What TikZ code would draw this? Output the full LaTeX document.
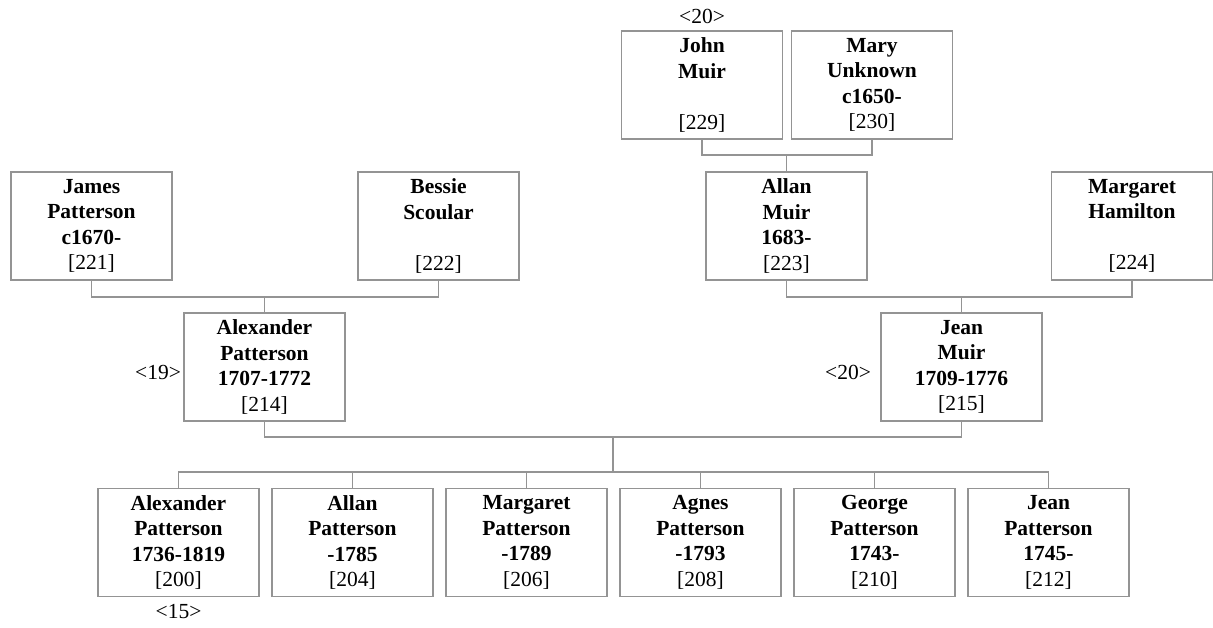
\documentclass[tikz,border=0pt]{standalone}
\usepackage{fontspec}
\setmainfont{Liberation Serif}
\begin{document}
\begin{tikzpicture}[x=1pt,y=-1pt,
  pbox/.style={draw=black!42,line width=1.2pt,minimum width=161pt,minimum height=108pt,
    inner sep=0pt,align=center,font=\fontsize{21.5}{25.5}\selectfont},
  link/.style={draw=black!42,line width=1.2pt},
  gen/.style={font=\fontsize{21.5}{25.5}\selectfont,inner sep=0pt}]
\useasboundingbox (0,0) rectangle (1213,628);
% generation 0
\node[pbox] (john) at (702,85) {\textbf{John}\\\textbf{Muir}\\~\\{}[229]};
\node[pbox] (mary) at (872,85) {\textbf{Mary}\\\textbf{Unknown}\\\textbf{c1650-}\\{}[230]};
% generation 1
\node[pbox] (james) at (91.5,226) {\textbf{James}\\\textbf{Patterson}\\\textbf{c1670-}\\{}[221]};
\node[pbox] (bessie) at (438.5,226) {\textbf{Bessie}\\\textbf{Scoular}\\~\\{}[222]};
\node[pbox] (allan) at (786.5,226) {\textbf{Allan}\\\textbf{Muir}\\\textbf{1683-}\\{}[223]};
\node[pbox] (margaret) at (1132,226) {\textbf{Margaret}\\\textbf{Hamilton}\\~\\{}[224]};
% generation 2
\node[pbox] (alex) at (264.5,367) {\textbf{Alexander}\\\textbf{Patterson}\\\textbf{1707-1772}\\{}[214]};
\node[pbox] (jean) at (961.5,367) {\textbf{Jean}\\\textbf{Muir}\\\textbf{1709-1776}\\{}[215]};
% children
\node[pbox] (c1) at (178.5,542.5) {\textbf{Alexander}\\\textbf{Patterson}\\\textbf{1736-1819}\\{}[200]};
\node[pbox] (c2) at (352.5,542.5) {\textbf{Allan}\\\textbf{Patterson}\\\textbf{-1785}\\{}[204]};
\node[pbox] (c3) at (526.5,542.5) {\textbf{Margaret}\\\textbf{Patterson}\\\textbf{-1789}\\{}[206]};
\node[pbox] (c4) at (700.5,542.5) {\textbf{Agnes}\\\textbf{Patterson}\\\textbf{-1793}\\{}[208]};
\node[pbox] (c5) at (874.5,542.5) {\textbf{George}\\\textbf{Patterson}\\\textbf{1743-}\\{}[210]};
\node[pbox] (c6) at (1048.5,542.5) {\textbf{Jean}\\\textbf{Patterson}\\\textbf{1745-}\\{}[212]};
% generation labels
\node[gen] (g1) at (702,16) {<20>};
\node[gen] (g2) at (158,372) {<19>};
\node[gen] (g3) at (848,372) {<20>};
\node[gen] (g4) at (178.5,612) {<15>};
% connectors
\coordinate (jm) at (786.5,155);
\coordinate (jb) at (264.5,297);
\coordinate (am) at (961.5,297);
\coordinate (aj) at (613,437);
\coordinate (kids) at (613,472);
\draw[link] (john.south) |- (jm) -| (mary.south);
\draw[link] (jm) -- (allan.north);
\draw[link] (james.south) |- (jb) -| (bessie.south);
\draw[link] (jb) -- (alex.north);
\draw[link] (allan.south) |- (am) -| (margaret.south);
\draw[link] (am) -- (jean.north);
\draw[link] (alex.south) |- (aj) -| (jean.south);
\draw[link] (aj) -- (kids);
\draw[link] (c1.north) |- (kids) -| (c6.north);
\foreach \c in {c2,c3,c4,c5} \draw[link] (\c.north) -- (\c.north |- kids);
\end{tikzpicture}
\end{document}
